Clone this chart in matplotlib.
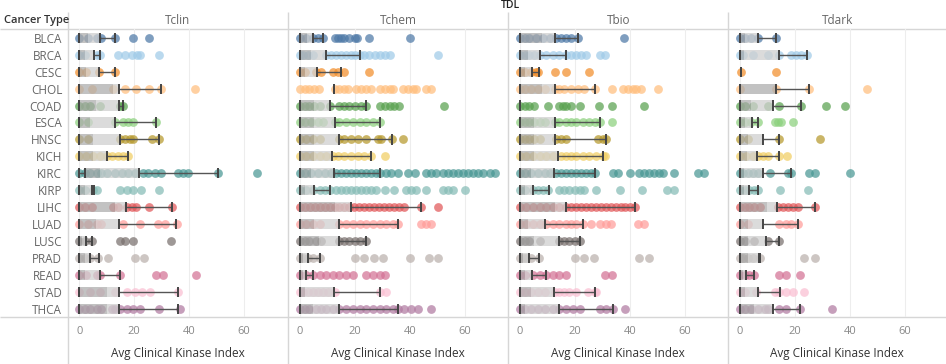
import matplotlib.pyplot as plt
import numpy as np

plt.rcParams['font.family'] = ['Open Sans', 'DejaVu Sans']

cancer_types = ['BLCA', 'BRCA', 'CESC', 'CHOL', 'COAD', 'ESCA', 'HNSC', 'KICH', 'KIRC',
                'KIRP', 'LIHC', 'LUAD', 'LUSC', 'PRAD', 'READ', 'STAD', 'THCA']
tdl_levels = ['Tclin', 'Tchem', 'Tbio', 'Tdark']
colors = ['#4E79A7', '#A0CBE8', '#F28E2B', '#FFBE7D', '#59A14F', '#8CD17D', '#B6992D',
          '#F1CE63', '#499894', '#86BCB6', '#E15759', '#FF9D9A', '#79706E', '#BAB0AC',
          '#D37295', '#FABFD2', '#B07AA1']

# points per cancer type (same order as cancer_types)
tclin_pts = [
    [0, 3, 6.3, 8, 13, 19.4, 25.5],
    [0, 2, 6.3, 7.5, 14, 16.5, 19, 21, 22, 29],
    [0, 2.5, 7, 13],
    [0, 4.5, 12.4, 16.6, 20.8, 25.5, 29.6, 42],
    [0, 2, 4, 7.5, 14.8, 16],
    [0, 3.3, 13, 16, 17.8, 19.6, 28],
    [0, 3.3, 14.8, 16.6, 18.4, 19.6, 26.3, 29],
    [0, 2.4, 5, 7.5, 10, 11.8, 14.2, 16, 17.8],
    [0, 2, 3.9, 6.3, 8, 10, 13, 15.4, 17.8, 20.2, 23.2, 25, 27.4, 29.8, 36, 37.8, 39.6, 50.5, 64.8],
    [0, 2, 5, 6.3, 14.8, 17.2, 19.4, 22.3, 29],
    [0, 2, 4.5, 12.4, 14.2, 17.2, 19, 20.8, 25.5, 33.6],
    [0, 3, 6.3, 8, 16, 22, 28.7, 31, 35.4],
    [0, 2, 4.5, 14.8, 16.6, 19.4, 33.2],
    [0, 2, 3.9, 6.9, 10.3, 20.4, 23.6],
    [0, 2.4, 6.3, 7.5, 14.8, 28, 30.5, 42.3],
    [0, 3.9, 7.5, 13, 17.2, 20.2, 22.7, 25.7, 36],
    [0, 2, 3.9, 6.3, 8, 11.8, 13, 14.8, 17.2, 19.6, 22, 29, 36.6],
]
tchem_pts = [
    [0, 2.3, 4.7, 6.5, 8.4, 12.6, 13.8, 15, 16.2, 18, 20, 20.7, 25, 40.2],
    [0, 1, 2.9, 4.7, 9.6, 11.4, 13.2, 15, 16.8, 18.7, 19.9, 21.7, 23.5, 25.3, 27.2, 29, 30.8, 32.6, 50.2],
    [0, 1.7, 5.9, 7.8, 12, 13.8, 16.2, 25.1],
    [0, 1.7, 3.5, 5.3, 6.9, 12.6, 14.2, 16.2, 17.5, 20.5, 22.3, 24.1, 25.9, 29, 30.8, 32.6, 33.8,
     37.5, 39.3, 41.1, 42.3, 45.9, 47.8],
    [0, 1.7, 3.5, 5.3, 7.2, 10.8, 14.4, 16.2, 18, 19.9, 22.3, 23.9, 29, 30.8, 32.6, 34.4, 36.2, 52.4],
    [0, 1.7, 4.1, 6.5, 8.4, 12.6, 14.4, 16.8, 19.3, 21.7, 24.1, 26.5, 29],
    [0, 2.3, 4.7, 7.2, 14.4, 16.2, 18.7, 21.1, 24.1, 28.4, 29.6, 33.6, 37.5],
    [0, 2.3, 4.7, 7.2, 9.6, 12, 13.8, 16.2, 18.7, 21.1, 23.5, 25.9, 30.8],
    [0, 1.8, 4.1, 6.5, 9, 11.4, 13.2, 15, 16.8, 18.7, 20.5, 22.3, 24.1, 25.9, 27.8, 29, 31.4, 33.2,
     35.6, 39.3, 41.7, 45.9, 47.8, 49.6, 52, 53.8, 55.6, 57.5, 59.3, 61.1, 62.9, 64.7, 66.5, 69, 71.1],
    [0, 2.3, 4.7, 7.2, 9, 10.8, 13.2, 15, 16.8, 18.7, 20.5, 22.3, 24.1, 25.9, 27.8, 31.1, 34.4,
     38.7, 40.5, 42.3, 45.9, 52, 53.8, 55.6, 59.9],
    [0, 1.8, 3.6, 5.4, 7.2, 9, 10.8, 12.6, 14.4, 16.2, 18, 19.8, 21.6, 23.4, 25.2, 27, 28.8, 30.6,
     32.4, 34.2, 36, 37.8, 44.2, 50.2],
    [0, 2.3, 4.7, 7.2, 14.4, 16.8, 19.3, 21.7, 24.1, 26.5, 29, 31.4, 33.8, 35.6, 44.1, 45.9, 47.8],
    [0, 1.7, 3.5, 5.9, 7.8, 14.4, 16.2, 18, 19.9, 21.7, 23.9],
    [0, 1.1, 2.9, 4.7, 7.2, 20.2, 23.5, 26.9, 30.2, 40.2, 46.8, 50.2],
    [0, 2.3, 4.7, 7.2, 9.6, 12, 14.4, 16.8, 19.3, 24.1, 26.5, 29, 30.8],
    [0, 1.1, 2.9, 4.7, 6.5, 8.4, 10.2, 12.6, 29, 31.4],
    [0, 1.7, 3.5, 5.9, 7.8, 9.6, 12, 14.4, 16.8, 19.3, 21.7, 24.1, 26.5, 29, 31.4, 33.8, 35.6, 38,
     40.5, 42.9, 47.8],
]
tbio_pts = [
    [0, 1.7, 3.5, 5.9, 8.4, 10.8, 13.2, 15, 16.8, 18.7, 21.1, 37.8],
    [0, 1.7, 3.5, 5.3, 7.2, 9.6, 12, 14.4, 16.8, 18.7, 20.5, 22.3, 24.1, 29, 31.1],
    [0, 1.7, 4.1, 5.9, 6.5, 12.6, 16.8, 25.1],
    [0, 1.7, 4.1, 6.5, 9, 12.6, 14.4, 16.2, 18.7, 21.1, 23.5, 27.2, 33.6, 37.5, 39.3, 41.1, 42.3, 44.1, 50.2],
    [0, 1.7, 3.5, 5.3, 10.2, 14.4, 15.6, 16.8, 18.7, 21.7, 28.7, 33.6, 45.3],
    [0, 1.7, 3.5, 5.3, 7.2, 9, 12.6, 14.4, 16.8, 18.7, 20.5, 22.9, 25.3, 27.2, 29, 33.6],
    [0, 1.7, 3.5, 5.3, 7.2, 13.2, 15, 16.8, 28.4, 30.2, 31.4],
    [0, 2.3, 4.7, 7.2, 9.6, 12, 15, 16.8, 18.7, 20.5, 22.9, 25.3, 27.8, 30.4, 31.1],
    [0, 1.7, 4.1, 6.5, 9, 10.8, 13.2, 15, 16.8, 18.7, 20.5, 22.3, 24.1, 25.9, 27.5, 33.8, 35.6,
     39.9, 43.5, 45.3, 47.1, 48.9, 50.5, 52.2, 56.2, 64.7, 66.8],
    [0, 1.7, 4.7, 6.5, 8.4, 10.2, 14.4, 16.2, 18, 19.9, 21.7, 23.5, 27.8, 36.5, 44.5, 53.5, 56.2],
    [0, 2.4, 4.8, 7.2, 9.6, 12, 14.4, 16.8, 18.6, 20.4, 22.2, 24, 25.8, 27.6, 29.4, 31.2, 33, 34.8,
     36.6, 38.4, 40.2, 41.7],
    [0, 2.3, 4.7, 7.2, 9.6, 12, 14.4, 16.8, 18.7, 20.5, 22.9, 25.9, 29, 31.4, 33.2, 42.9, 45.3],
    [0, 1.7, 3.5, 7.2, 14.4, 16.2, 18, 19.9, 21.7],
    [0, 1.1, 2.3, 4.1, 6.9, 20.2, 23.5, 26.9, 43.5, 46.8],
    [0, 1.7, 4.7, 7.2, 9.6, 12, 14.4, 16.8, 31.1, 33.6],
    [0, 1.7, 4.1, 6.5, 9, 12.6, 14.4, 16.2, 18, 20.5, 24.7, 27.2, 27.8],
    [0, 1.7, 4.1, 6.5, 9, 12, 14.4, 16.8, 19.3, 21.7, 29, 31.4, 33.8, 38.4],
]
tdark_pts = [
    [0, 1.7, 4.1, 6.5, 13.2],
    [0, 1.1, 4.7, 10.2, 14.4, 18.7, 20.5, 22.3, 24.4],
    [0.5, 13],
    [0, 13.2, 25.3, 46.2],
    [0, 1.7, 4.7, 10.2, 14.4, 22.3, 31.4, 38.4],
    [0, 1.7, 4.1, 6.5, 12.6, 13.8, 15, 19.3],
    [0, 2.9, 14.4, 29],
    [0, 2.3, 4.7, 6.5, 8.4, 10.2, 14.4, 17.2],
    [0, 1.1, 2.9, 4.7, 6.5, 10.8, 17.5, 18.7, 25.3, 27.5, 40.1],
    [0, 1.7, 3.5, 5.3, 6.5, 14.7, 24.7],
    [0, 1.7, 3.5, 5.3, 7.2, 13.8, 15.6, 17.5, 19.3, 21.1, 27.5],
    [0, 2.9, 14.4, 16.8, 18.7, 21.1],
    [0, 1.7, 5.3, 10.2, 14.4],
    [0, 1.1, 2.9, 4.7, 7.2, 23.5, 27.2],
    [0, 1.7, 3.5, 5.3, 14.4, 16.8, 21.7],
    [0, 1.7, 5.9, 12.6, 14.4, 16.8, 19.3, 23.2],
    [0, 1.7, 4.1, 6.5, 9, 10.2, 14.4, 16.8, 21.7, 33.6],
]

# box plot stats: (whisker low, Q1, median, Q3, whisker high)
tclin_box = [(0, 0, 3, 7.5, 13), (0, 0, 2, 5.3, 7.5), (0, 0, 2.5, 7, 13), (0, 0, 12.4, 14.3, 29.6),
             (0, 0, 6, 14.5, 16), (0, 0, 4, 13, 28), (0, 0, 5, 14.8, 29), (0, 0, 5, 10, 17.8),
             (0, 2, 7.6, 21.6, 50.5), (0, 0, 2, 4.5, 5.5), (0, 0, 13, 17, 33.6), (0, 0, 6, 14.4, 35.2),
             (0, 0, 1, 2.5, 4.5), (0, 0, 2, 4, 7), (0, 0, 2, 7.5, 14.8), (0, 0, 10, 14.5, 36),
             (0, 0, 10, 14.4, 36)]
tchem_box = [(0, 0, 2.5, 4.7, 8.4), (0, 0, 4, 9.6, 21.7), (0, 0, 2, 6.1, 15), (12.4, 12.4, 12.4, 12.4, 12.4),
             (0, 0, 5, 10.8, 23.9), (0, 0, 5, 12.6, 29), (0, 0, 5, 14.4, 33.6), (0, 0, 5, 11.6, 25.9),
             (0, 0, 4, 12.4, 29), (0, 0, 2, 5.3, 11), (0, 0, 12.6, 18.7, 44.2), (0, 0, 5, 14.4, 35.6),
             (0, 0, 7, 14.4, 23.9), (0, 0, 1, 2.9, 7.2), (0, 0, 1, 2.3, 4.7), (0, 0, 2, 12.4, 29),
             (0, 0, 4.7, 14.2, 35.6)]
tbio_box = [(0, 0, 8, 12.6, 21.1), (0, 0, 3, 7.2, 16.8), (0, 0, 1.7, 4.3, 6.9), (0, 0, 8, 12.6, 27.2),
            (0, 0, 0, 0, 0), (0, 0, 5, 12.6, 29), (0, 0, 5, 12.6, 31.4), (0, 0, 5, 14, 30.4),
            (0, 0, 4, 12.4, 27.5), (0, 0, 2, 4.7, 10.5), (0, 0, 12.6, 16.8, 41.7), (0, 0, 3, 9.3, 23),
            (0, 0, 5, 14.4, 21.7), (0, 0, 1, 3.3, 6.9), (0, 0, 1.7, 4.5, 9.6), (0, 0, 4, 12.4, 27.2),
            (0, 0, 2, 14.4, 33.8)]
tdark_box = [(0, 0, 2, 6.5, 13.2), (0, 0, 1.5, 14.4, 24.4), (0.5, 0.5, 0.5, 0.5, 0.5), (0, 0, 13, 13.2, 25.3),
             (0, 0, 4, 12, 22.3), (0, 0, 2, 4.5, 6.5), (0, 0, 3, 8.4, 14.4), (0, 0, 2.5, 6.3, 14.4),
             (0, 0, 1.5, 8.4, 18.7), (0, 0, 1.5, 3.2, 6.5), (0, 0, 10, 13.6, 27.5), (0, 0, 3, 8.4, 21),
             (0, 0, 3, 9.6, 14.4), (0, 0, 3, 6.9, 7.2), (0, 0, 1, 2.3, 5.3), (0, 0, 2, 6.5, 14.7),
             (0, 0, 5, 12, 21.7)]

all_pts = [tclin_pts, tchem_pts, tbio_pts, tdark_pts]
all_box = [tclin_box, tchem_box, tbio_box, tdark_box]

W, H = 946, 364
fig = plt.figure(figsize=(W / 100, H / 100), dpi=100)

# background layer in pixel coords for frame lines and headers
bg = fig.add_axes([0, 0, 1, 1], zorder=0)
bg.set_xlim(0, W)
bg.set_ylim(H, 0)
bg.axis('off')

top, bottom = 29.3, 317.3
lefts = [67.7, 288.3, 508.3, 728.3]
pw = 220
px_per_unit = 2.75
x_min = -4.2
line_c = '#d6d6d6'

bg.hlines([top, bottom], 0, W, color=line_c, lw=1)
bg.vlines(lefts, 12, H, color=line_c, lw=1)
bg.text(510, 5.5, 'TDL', ha='center', va='center', fontsize=7.5, fontweight='semibold', color='#222222')
bg.text(4, 20.5, 'Cancer Type', ha='left', va='center', fontsize=8, fontweight='semibold', color='#333333')

for k, name in enumerate(tdl_levels):
    L = lefts[k]
    w = min(pw, W - L)
    bg.text(L + w / 2, 20.5, name, ha='center', va='center', fontsize=8.5, color='#666666')
    ax = fig.add_axes([L / W, (H - bottom) / H, w / W, (bottom - top) / H], zorder=1)
    ax.set_facecolor('none')
    for s in ax.spines.values():
        s.set_visible(False)
    ax.set_xlim(x_min, x_min + w / px_per_unit)
    ax.set_ylim(len(cancer_types) - 0.5, -0.5)
    ax.set_xticks([0, 20, 40, 60])
    ax.grid(axis='x', color='#ededed', lw=0.8, zorder=0)
    ax.set_axisbelow(True)
    ax.tick_params(axis='x', length=0, pad=6.5, labelsize=8, labelcolor='#888888')
    ax.set_xlabel('Avg Clinical Kinase Index', fontsize=8.5, color='#333333', labelpad=7)
    if k == 0:
        ax.set_yticks(range(len(cancer_types)))
        ax.set_yticklabels(cancer_types)
        ax.tick_params(axis='y', length=0, pad=4, labelsize=8.5, labelcolor='#666666')
    else:
        ax.set_yticks([])

    pts_list = all_pts[k]
    box_list = all_box[k]
    for i, pts in enumerate(pts_list):
        ax.scatter(pts, [i] * len(pts), s=40, color=colors[i], alpha=0.72, linewidths=0, zorder=2)
        lo, q1, med, q3, hi = box_list[i]
        ax.barh(i, med - q1, left=q1, height=0.6, color='#a9a9a9', alpha=0.7, lw=0, zorder=3)
        ax.barh(i, q3 - med, left=med, height=0.6, color='#d0d0d0', alpha=0.75, lw=0, zorder=3)
        ax.hlines(i, lo, q1, color='#555555', lw=1, zorder=4)
        ax.hlines(i, q3, hi, color='#555555', lw=1, zorder=4)
        ax.vlines([lo, q1, q3, hi], i - 0.3, i + 0.3, color='#444444', lw=1.4, zorder=4)

fig.savefig('out.png', dpi=100)
